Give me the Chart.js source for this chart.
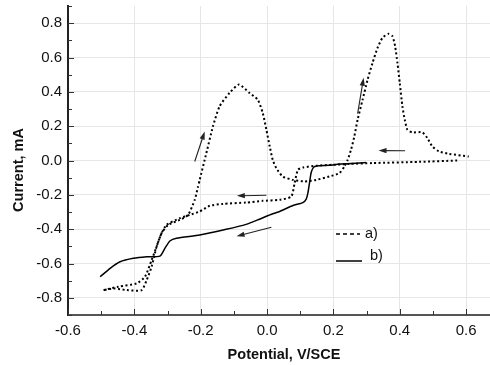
<!DOCTYPE html>
<html>
<head>
<meta charset="utf-8">
<script src="https://cdn.jsdelivr.net/npm/chart.js@4/dist/chart.umd.min.js"></script>
<style>
  html, body { margin: 0; padding: 0; background: #fff; }
  #wrap { width: 490px; height: 365px; }
</style>
</head>
<body>
<div id="wrap"><canvas id="cv"></canvas></div>
<script>
// curve a) dotted, one sweep; null splits the two ends at the switching potential
const aX = [-0.493,-0.448,-0.393,-0.368,-0.348,-0.333,-0.318,-0.298,-0.263,-0.238,-0.218,-0.208,-0.203,-0.183,-0.163,-0.143,-0.113,-0.085,
  -0.053,-0.028,-0.013,-0.002,0.008,0.017,0.028,0.047,0.078,0.113,0.148,0.188,0.218,0.233,0.243,0.253,0.263,0.273,0.288,0.303,0.318,0.333,0.348,0.366,
  0.378,0.386,0.393,0.4,0.408,0.415,0.423,0.438,0.468,0.483,0.498,0.518,0.548,0.608,
  null,
  0.573,0.458,0.318,0.248,0.198,0.15,0.108,0.093,0.083,0.073,0.038,-0.013,-0.063,-0.133,-0.173,-0.203,-0.233,-0.263,
  -0.303,-0.318,-0.333,-0.348,-0.363,-0.378,-0.423,-0.463,-0.493];
const aY = [-0.755,-0.735,-0.716,-0.677,-0.58,-0.502,-0.424,-0.375,-0.346,-0.317,-0.229,-0.152,-0.113,0.043,0.199,0.316,0.394,0.442,
  0.394,0.354,0.277,0.179,0.082,0.004,-0.045,-0.093,-0.113,-0.122,-0.113,-0.093,-0.074,-0.035,0.004,0.062,0.14,0.238,0.354,0.471,0.569,0.656,0.715,0.738,
  0.724,0.666,0.569,0.452,0.315,0.238,0.179,0.164,0.164,0.131,0.082,0.053,0.039,0.023,
  null,
  0.0,-0.008,-0.015,-0.02,-0.025,-0.03,-0.041,-0.054,-0.132,-0.21,-0.229,-0.235,-0.245,-0.253,-0.264,-0.297,-0.317,-0.336,
  -0.375,-0.424,-0.502,-0.619,-0.697,-0.755,-0.755,-0.745,-0.755];

// curve b) solid
const bX = [-0.503,-0.473,-0.443,-0.403,-0.363,-0.323,-0.308,-0.293,-0.273,-0.203,-0.123,-0.063,-0.023,0.017,0.038,0.078,0.108,0.118,0.123,0.128,0.133,0.14,0.15,0.188,0.218,0.298];
const bY = [-0.677,-0.628,-0.59,-0.57,-0.561,-0.557,-0.512,-0.469,-0.453,-0.434,-0.401,-0.372,-0.342,-0.31,-0.297,-0.262,-0.245,-0.225,-0.19,-0.13,-0.07,-0.04,-0.032,-0.028,-0.021,-0.012];

// sweep direction arrows [x, y] tail -> head
const arrowFrom = [[-0.218,-0.006],[-0.002,-0.202],[0.013,-0.389],[0.273,0.273],[0.416,0.057]];
const arrowTo   = [[-0.188,0.169],[-0.091,-0.206],[-0.092,-0.441],[0.291,0.482],[0.336,0.058]];

const xTicks = [-0.6,-0.4,-0.2,0.0,0.2,0.4,0.6];
const yTicks = [-0.8,-0.6,-0.4,-0.2,0.0,0.2,0.4,0.6,0.8];
const legendLabels = ['a)', 'b)'];

const FONT = '"Liberation Sans", Arial, sans-serif';
const pts = (xs, ys) => xs.map((x, i) => ({ x: x, y: ys[i] }));

const extras = {
  id: 'extras',
  afterDraw(chart) {
    const ctx = chart.ctx, ca = chart.chartArea;
    const xs = chart.scales.x, ys = chart.scales.y;
    ctx.save();
    // inward ticks, minor every 0.1
    ctx.strokeStyle = '#333'; ctx.lineWidth = 1;
    for (let k = -6; k <= 6; k++) {
      const px = Math.round(xs.getPixelForValue(k / 10)) + 0.5;
      const len = k % 2 === 0 ? 6 : 4;
      ctx.beginPath(); ctx.moveTo(px, ca.bottom); ctx.lineTo(px, ca.bottom - len); ctx.stroke();
    }
    for (let k = -9; k <= 9; k++) {
      const py = Math.round(ys.getPixelForValue(k / 10)) + 0.5;
      const len = k % 2 === 0 ? 6 : 4;
      ctx.beginPath(); ctx.moveTo(ca.left, py); ctx.lineTo(ca.left + len, py); ctx.stroke();
    }
    // arrows
    ctx.strokeStyle = '#222'; ctx.fillStyle = '#222'; ctx.lineWidth = 1.1;
    arrowFrom.forEach((f, i) => {
      const x0 = xs.getPixelForValue(f[0]), y0 = ys.getPixelForValue(f[1]);
      const x1 = xs.getPixelForValue(arrowTo[i][0]), y1 = ys.getPixelForValue(arrowTo[i][1]);
      const a = Math.atan2(y1 - y0, x1 - x0);
      ctx.beginPath(); ctx.moveTo(x0, y0); ctx.lineTo(x1 - 5 * Math.cos(a), y1 - 5 * Math.sin(a)); ctx.stroke();
      ctx.beginPath();
      ctx.moveTo(x1, y1);
      ctx.lineTo(x1 - 8 * Math.cos(a) + 2.6 * Math.sin(a), y1 - 8 * Math.sin(a) - 2.6 * Math.cos(a));
      ctx.lineTo(x1 - 8 * Math.cos(a) - 2.6 * Math.sin(a), y1 - 8 * Math.sin(a) + 2.6 * Math.cos(a));
      ctx.closePath(); ctx.fill();
    });
    // legend
    const lx = ca.left + 268, ly = ca.top + 228;
    ctx.strokeStyle = '#000'; ctx.lineWidth = 1.5;
    ctx.setLineDash([4, 3]);
    ctx.beginPath(); ctx.moveTo(lx, ly); ctx.lineTo(lx + 24, ly); ctx.stroke();
    ctx.setLineDash([]);
    ctx.beginPath(); ctx.moveTo(lx, ly + 27); ctx.lineTo(lx + 26, ly + 27); ctx.stroke();
    ctx.fillStyle = '#111'; ctx.font = '14.5px ' + FONT; ctx.textBaseline = 'middle'; ctx.textAlign = 'left';
    ctx.fillText(legendLabels[0], lx + 29, ly);
    ctx.fillText(legendLabels[1], lx + 34, ly + 22);
    // axis titles
    ctx.font = 'bold 14.5px ' + FONT; ctx.textAlign = 'center';
    ctx.fillText('Potential, V/SCE', 284, 355);
    ctx.translate(19, 170); ctx.rotate(-Math.PI / 2);
    ctx.fillText('Current, mA', 0, 0);
    ctx.restore();
  }
};

new Chart(document.getElementById('cv'), {
  type: 'scatter',
  data: {
    datasets: [
      { label: 'a)', data: pts(aX, aY), showLine: true, borderColor: '#000', borderWidth: 2,
        borderDash: [2, 2.5], pointRadius: 0, tension: 0.2, spanGaps: false },
      { label: 'b)', data: pts(bX, bY), showLine: true, borderColor: '#000', borderWidth: 1.5,
        pointRadius: 0, tension: 0.2 }
    ]
  },
  options: {
    responsive: true, maintainAspectRatio: false, animation: false,
    layout: { padding: { top: 6, right: 0, left: 0, bottom: 0 } },
    plugins: { legend: { display: false }, tooltip: { enabled: false } },
    scales: {
      x: {
        type: 'linear', min: -0.6, max: 0.672,
        afterBuildTicks: s => { s.ticks = xTicks.map(v => ({ value: v })); },
        afterFit: s => { s.height = 50; s.paddingRight = 0; },
        grid: { color: '#e6e6e6', drawTicks: false },
        border: { color: '#555', width: 2 },
        ticks: { color: '#111', padding: 7, font: { family: FONT, size: 15 }, callback: v => v.toFixed(1) }
      },
      y: {
        type: 'linear', min: -0.9, max: 0.9,
        afterBuildTicks: s => { s.ticks = yTicks.map(v => ({ value: v })); },
        afterFit: s => { s.width = 68; s.paddingTop = 0; s.paddingBottom = 0; },
        grid: { color: '#e6e6e6', drawTicks: false },
        border: { color: '#222', width: 2 },
        ticks: { color: '#111', padding: 6, font: { family: FONT, size: 15 }, callback: v => v.toFixed(1) }
      }
    }
  },
  plugins: [extras]
});
</script>
</body>
</html>
